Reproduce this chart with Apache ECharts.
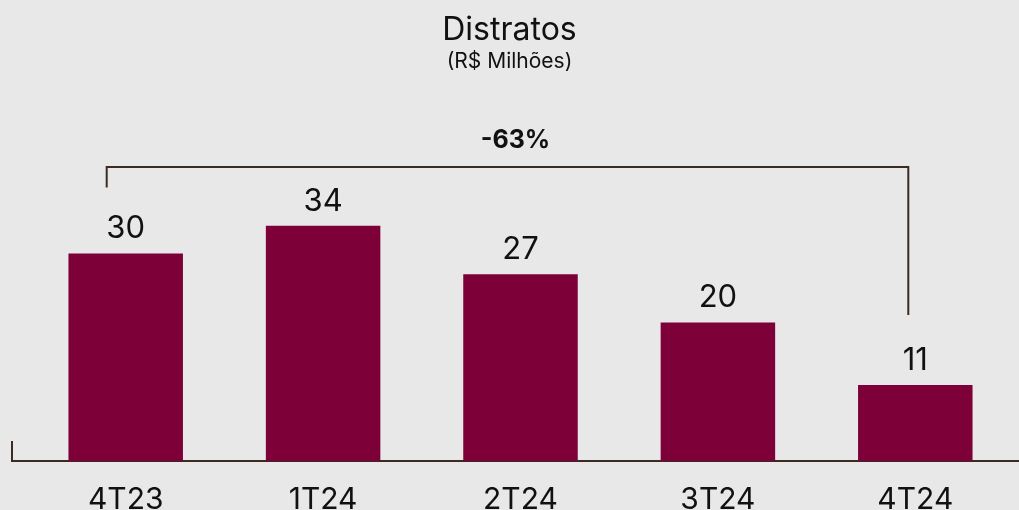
<!DOCTYPE html>
<html>
<head>
<meta charset="utf-8">
<script src="https://cdn.jsdelivr.net/npm/echarts@6/dist/echarts.min.js"></script>
<style>
  html, body { margin: 0; padding: 0; background: #e8e8e8; }
  #main { width: 1019px; height: 510px; }
</style>
</head>
<body>
<div id="main"></div>
<script>
// dados do gráfico
var categorias = ['4T23', '1T24', '2T24', '3T24', '4T24'];
var distratos = [30, 34, 27, 20, 11];
var variacao = '-63%';

var corBarra = '#7d0038';
var corLinha = '#3d2b22';
var fonte = 'Inter, "Noto Sans", sans-serif';

var myChart = echarts.init(document.getElementById('main'));

var option = {
    backgroundColor: '#e8e8e8',
    title: {
        text: 'Distratos',
        subtext: '(R$ Milhões)',
        left: 'center',
        top: 9,
        itemGap: 5,
        textStyle: { fontFamily: fonte, fontSize: 32, fontWeight: 'normal', color: '#111' },
        subtextStyle: { fontFamily: fonte, fontSize: 21, color: '#111' }
    },
    grid: { left: 27, right: 5, top: 115, bottom: 49, containLabel: false, outerBoundsMode: 'none' },
    xAxis: {
        type: 'category',
        data: categorias,
        axisLine: { show: false },
        axisTick: { show: false },
        axisLabel: { fontFamily: fonte, fontSize: 30, color: '#111', margin: 24 }
    },
    yAxis: {
        type: 'value',
        min: 0,
        max: 50,
        show: false,
        splitLine: { show: false }
    },
    series: [{
        type: 'bar',
        data: distratos,
        barWidth: '58%',
        itemStyle: { color: corBarra },
        label: {
            show: true,
            position: 'top',
            distance: 9,
            fontFamily: fonte,
            fontSize: 31,
            color: '#111'
        }
    }]
};

myChart.setOption(option);

// linha do eixo e colchete de variação calculados pela escala
var base = myChart.convertToPixel({ gridIndex: 0 }, [0, 0]);
var yBase = base[1];
var pIni = myChart.convertToPixel({ gridIndex: 0 }, [0, distratos[0]]);
var pFim = myChart.convertToPixel({ gridIndex: 0 }, [categorias.length - 1, distratos[distratos.length - 1]]);
var yTopo = myChart.convertToPixel({ gridIndex: 0 }, [0, 42.5])[1];
var xEsq = pIni[0] - 19;
var xDir = pFim[0] - 7;

myChart.setOption({
    graphic: [
        {
            type: 'polyline',
            shape: { points: [[12, yBase - 20], [12, yBase], [1019, yBase]] },
            style: { stroke: corLinha, lineWidth: 2, fill: null }
        },
        {
            type: 'polyline',
            shape: { points: [[xEsq, pIni[1] - 66], [xEsq, yTopo], [xDir, yTopo], [xDir, pFim[1] - 70]] },
            style: { stroke: corLinha, lineWidth: 2, fill: null }
        },
        {
            type: 'text',
            x: (xEsq + xDir) / 2 + 8,
            y: yTopo - 26,
            style: {
                text: variacao,
                align: 'center',
                verticalAlign: 'middle',
                font: 'bold 25px ' + fonte,
                fill: '#111'
            }
        }
    ]
});
</script>
</body>
</html>
